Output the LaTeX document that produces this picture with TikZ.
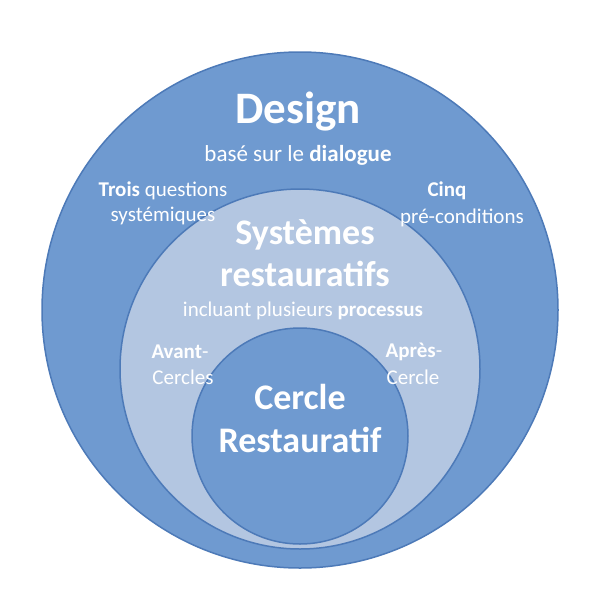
\documentclass[tikz,border=0pt]{standalone}
\usepackage{fontspec}
\setmainfont{Carlito}
\begin{document}
\begin{tikzpicture}[x=1pt,y=-1pt,
  circ/.style={draw=bordc,line width=1.5pt},
  t/.style={text=white,font=\fontsize{21}{23}\selectfont,inner sep=0pt,anchor=center},
  big/.style={text=white,font=\bfseries\fontsize{36}{38}\selectfont,inner sep=0pt,anchor=center}]
\definecolor{outc}{HTML}{6F9AD0}
\definecolor{midc}{HTML}{B3C6E1}
\definecolor{bordc}{HTML}{4D7AB8}
\useasboundingbox (0,0) rectangle (600,600);
\fill[white] (0,0) rectangle (600,600);
\node[circ,fill=outc,circle,minimum size=516pt,inner sep=0pt] (outer) at (300,310) {};
\node[circ,fill=midc,circle,minimum size=360pt,inner sep=0pt] (mid) at (300,369) {};
\node[circ,fill=outc,circle,minimum size=216pt,inner sep=0pt] (inner) at (300,436) {};
\node[big,font=\bfseries\fontsize{45}{47}\selectfont] (d) at (298,112) {Design};
\node[t,font=\fontsize{23}{25}\selectfont] (d2) at (298,155) {basé sur le \textbf{dialogue}};
\node[t] (tq1) at (163,191) {\textbf{Trois} questions};
\node[t] (tq2) at (163,216) {systémiques};
\node[t] (c1) at (447,191) {\textbf{Cinq}};
\node[t] (c2) at (462,218) {pré-conditions};
\node[big] (s1) at (305,235) {Systèmes};
\node[big] (s2) at (305,274) {restauratifs};
\node[t] (s3) at (303,311) {incluant plusieurs \textbf{processus}};
\node[t] (a1) at (180,352) {\textbf{Avant}-};
\node[t] (a2) at (183,377) {Cercles};
\node[t] (p1) at (414,352) {\textbf{Après}-};
\node[t] (p2) at (413,377) {Cercle};
\node[big] (r1) at (300,397) {Cercle};
\node[big] (r2) at (300,440) {Restauratif};
\end{tikzpicture}
\end{document}
